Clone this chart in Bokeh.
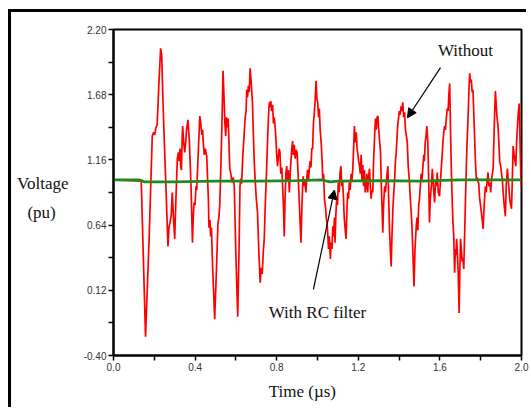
from bokeh.plotting import figure
from bokeh.layouts import column
from bokeh.models import (Range1d, FixedTicker, Label, Arrow, NormalHead,
                          PrintfTickFormatter, LinearAxis)
from bokeh.embed import file_html
from bokeh.resources import INLINE

# ---- data ----
green_t = [0.0, 0.13, 0.15, 0.3, 0.5, 0.7, 0.9, 1.02, 1.06, 1.1, 1.3, 1.5, 1.7, 1.9, 2.0]
green_v = [1.00, 1.00, 0.985, 0.985, 0.99, 0.99, 0.995, 1.0, 0.985, 0.99, 0.995, 0.99, 1.0, 1.0, 1.0]

red_pts = [
    (0.0, 1.00), (0.136, 0.99), (0.157, -0.25), (0.175, 0.55), (0.19, 1.35), (0.197, 1.38),
    (0.202, 1.36), (0.208, 1.42), (0.214, 1.44), (0.222, 1.75), (0.231, 2.05), (0.236, 2.00),
    (0.245, 1.50), (0.258, 0.90), (0.267, 0.47), (0.272, 0.62), (0.277, 0.66), (0.283, 0.72),
    (0.288, 0.90), (0.294, 0.70), (0.30, 0.53), (0.306, 0.85), (0.313, 1.17), (0.318, 1.22),
    (0.322, 1.15), (0.326, 1.25), (0.330, 1.10), (0.333, 1.08), (0.336, 1.30), (0.339, 1.43),
    (0.344, 1.30), (0.349, 1.22), (0.354, 1.30), (0.358, 1.40), (0.365, 1.48), (0.372, 1.30),
    (0.380, 0.95), (0.387, 0.50), (0.391, 0.70), (0.395, 0.82), (0.400, 0.80), (0.404, 0.95),
    (0.408, 0.92), (0.415, 1.20), (0.423, 1.51), (0.428, 1.45), (0.433, 1.36), (0.437, 1.40),
    (0.44, 1.30), (0.445, 1.20), (0.450, 1.25), (0.457, 1.19), (0.465, 0.85), (0.468, 0.62),
    (0.473, 0.68), (0.476, 0.55), (0.480, 0.62), (0.486, 0.30), (0.496, -0.11), (0.505, 0.30),
    (0.512, 0.65), (0.517, 0.71), (0.521, 0.80), (0.526, 1.09), (0.531, 1.40), (0.537, 1.87),
    (0.542, 1.65), (0.546, 1.45), (0.55, 1.35), (0.554, 1.50), (0.558, 1.42), (0.562, 1.49),
    (0.566, 1.30), (0.57, 1.09), (0.575, 1.05), (0.579, 1.00), (0.583, 0.98), (0.587, 1.02),
    (0.592, 0.95), (0.600, 0.40), (0.609, -0.09), (0.616, 0.50), (0.620, 0.95), (0.624, 1.01),
    (0.628, 0.97), (0.634, 1.20), (0.640, 1.35), (0.645, 1.49), (0.650, 1.55), (0.653, 1.72),
    (0.657, 1.66), (0.661, 1.75), (0.665, 1.70), (0.670, 1.89), (0.674, 1.80), (0.678, 1.70),
    (0.681, 1.62), (0.686, 1.35), (0.690, 1.15), (0.694, 1.01), (0.700, 0.85), (0.706, 0.74),
    (0.712, 0.45), (0.719, 0.18), (0.724, 0.30), (0.729, 0.25), (0.734, 0.42), (0.739, 0.53),
    (0.744, 0.80), (0.75, 1.06), (0.756, 1.35), (0.761, 1.55), (0.764, 1.62), (0.767, 1.58),
    (0.771, 1.63), (0.775, 1.55), (0.78, 1.60), (0.784, 1.45), (0.788, 1.50), (0.793, 1.41),
    (0.797, 1.30), (0.800, 1.20), (0.804, 1.11), (0.808, 1.18), (0.812, 1.25), (0.816, 1.22),
    (0.820, 1.05), (0.825, 1.10), (0.829, 0.95), (0.833, 0.80), (0.837, 0.55), (0.841, 0.85),
    (0.845, 1.05), (0.849, 1.11), (0.853, 1.00), (0.857, 1.08), (0.862, 0.90), (0.866, 1.05),
    (0.870, 1.15), (0.874, 1.25), (0.878, 1.31), (0.882, 1.20), (0.886, 1.28), (0.891, 1.17),
    (0.895, 1.24), (0.900, 1.22), (0.905, 1.05), (0.910, 0.85), (0.915, 0.65), (0.919, 0.50),
    (0.923, 0.75), (0.927, 0.95), (0.93, 1.03), (0.934, 0.95), (0.938, 1.00), (0.943, 0.90),
    (0.947, 1.00), (0.951, 1.08), (0.956, 1.00), (0.96, 1.09), (0.964, 1.15), (0.968, 1.10),
    (0.972, 1.25), (0.976, 1.25), (0.980, 1.45), (0.985, 1.55), (0.989, 1.65), (0.993, 1.79),
    (0.997, 1.65), (1.001, 1.62), (1.005, 1.50), (1.009, 1.57), (1.013, 1.40), (1.018, 1.30),
    (1.022, 1.17), (1.026, 1.00), (1.030, 1.05), (1.034, 0.85), (1.039, 0.79), (1.043, 0.70),
    (1.047, 0.65), (1.05, 0.58), (1.054, 0.45), (1.058, 0.55), (1.063, 0.37), (1.067, 0.50),
    (1.071, 0.45), (1.075, 0.63), (1.079, 0.55), (1.083, 0.70), (1.086, 0.50), (1.090, 0.72),
    (1.094, 0.85), (1.098, 0.80), (1.102, 0.98), (1.106, 0.90), (1.110, 1.05), (1.115, 1.11),
    (1.119, 0.95), (1.123, 1.00), (1.127, 0.87), (1.131, 0.70), (1.136, 0.60), (1.14, 0.53),
    (1.144, 0.75), (1.148, 0.90), (1.152, 0.85), (1.156, 0.98), (1.160, 0.92), (1.165, 1.05),
    (1.169, 1.00), (1.173, 1.09), (1.177, 1.25), (1.181, 1.43), (1.185, 1.30), (1.190, 1.38),
    (1.194, 1.25), (1.198, 1.20), (1.202, 1.15), (1.206, 1.11), (1.210, 1.05), (1.214, 1.20),
    (1.218, 1.00), (1.222, 1.12), (1.226, 0.95), (1.230, 1.08), (1.234, 0.90), (1.238, 0.95),
    (1.242, 1.05), (1.246, 0.90), (1.250, 1.02), (1.255, 1.09), (1.259, 0.95), (1.263, 0.85),
    (1.267, 0.92), (1.271, 0.90), (1.275, 1.15), (1.280, 1.35), (1.284, 1.49), (1.288, 1.40),
    (1.292, 1.50), (1.296, 1.51), (1.300, 1.40), (1.305, 1.30), (1.309, 1.22), (1.313, 0.95),
    (1.317, 0.75), (1.32, 0.58), (1.324, 0.80), (1.329, 0.95), (1.333, 0.90), (1.337, 0.98),
    (1.341, 1.05), (1.345, 1.11), (1.349, 0.85), (1.353, 0.60), (1.357, 0.45), (1.361, 0.31),
    (1.365, 0.55), (1.369, 0.75), (1.374, 0.90), (1.378, 1.00), (1.382, 1.15), (1.386, 1.22),
    (1.390, 1.35), (1.394, 1.45), (1.397, 1.49), (1.401, 1.55), (1.405, 1.52), (1.41, 1.59),
    (1.414, 1.55), (1.418, 1.62), (1.422, 1.50), (1.427, 1.54), (1.431, 1.40), (1.436, 1.35),
    (1.44, 1.30), (1.445, 1.10), (1.451, 0.98), (1.455, 0.85), (1.459, 0.75), (1.463, 0.63),
    (1.468, 0.40), (1.473, 0.15), (1.478, 0.45), (1.484, 0.63), (1.488, 0.70), (1.492, 0.60),
    (1.496, 0.80), (1.50, 0.85), (1.504, 0.95), (1.508, 1.05), (1.512, 1.00), (1.517, 1.11),
    (1.521, 1.20), (1.524, 1.15), (1.528, 1.30), (1.532, 1.35), (1.536, 1.43), (1.541, 1.30),
    (1.545, 1.00), (1.549, 0.66), (1.553, 0.85), (1.558, 0.95), (1.563, 1.09), (1.568, 0.95),
    (1.574, 0.82), (1.579, 1.00), (1.583, 0.95), (1.587, 1.06), (1.592, 0.90), (1.598, 0.87),
    (1.603, 1.00), (1.607, 1.10), (1.61, 1.17), (1.615, 1.30), (1.619, 1.38), (1.623, 1.43),
    (1.627, 1.40), (1.632, 1.50), (1.636, 1.57), (1.640, 1.55), (1.644, 1.68), (1.648, 1.77),
    (1.652, 1.40), (1.656, 1.09), (1.660, 0.85), (1.664, 0.66), (1.668, 0.55), (1.672, 0.26),
    (1.676, 0.45), (1.679, 0.40), (1.682, 0.53), (1.686, 0.40), (1.690, 0.25), (1.694, -0.06),
    (1.698, 0.30), (1.701, 0.53), (1.705, 0.45), (1.709, 0.35), (1.713, 0.38), (1.717, 0.29),
    (1.721, 0.55), (1.727, 0.95), (1.732, 1.25), (1.738, 1.49), (1.742, 1.70), (1.746, 1.85),
    (1.750, 1.78), (1.754, 1.80), (1.758, 1.70), (1.762, 1.72), (1.767, 1.49), (1.771, 1.30),
    (1.775, 1.11), (1.779, 1.00), (1.783, 1.02), (1.787, 0.98), (1.790, 0.98), (1.795, 0.85),
    (1.800, 0.79), (1.806, 0.70), (1.812, 0.61), (1.817, 0.80), (1.823, 0.95), (1.827, 0.90),
    (1.832, 1.00), (1.836, 1.06), (1.840, 0.95), (1.845, 0.98), (1.849, 0.90), (1.853, 1.00),
    (1.857, 1.05), (1.861, 1.09), (1.866, 1.40), (1.872, 1.71), (1.876, 1.60), (1.880, 1.50),
    (1.885, 1.43), (1.889, 1.30), (1.893, 1.15), (1.898, 1.11), (1.902, 1.05), (1.906, 1.01),
    (1.910, 0.90), (1.915, 0.80), (1.921, 0.71), (1.925, 0.95), (1.931, 1.09), (1.935, 1.00),
    (1.938, 0.95), (1.942, 0.85), (1.947, 0.80), (1.951, 0.77), (1.955, 1.00), (1.959, 1.27),
    (1.964, 1.20), (1.968, 1.15), (1.972, 1.11), (1.976, 1.30), (1.981, 1.45), (1.985, 1.55),
    (1.989, 1.61), (1.993, 1.30), (1.997, 1.00), (2.0, 0.95),
]
red_t = [a for a, b in red_pts]
red_v = [b for a, b in red_pts]

y_ticks = [-0.40, 0.12, 0.64, 1.16, 1.68, 2.20]
y_minor = [-0.14, 0.38, 0.90, 1.42, 1.94]
x_ticks = [0.0, 0.4, 0.8, 1.2, 1.6, 2.0]
x_minor = [0.2, 0.6, 1.0, 1.4, 1.8]

serif = "Liberation Serif"

p = figure(width=518, height=398, output_backend="svg", toolbar_location=None,
           x_range=Range1d(0, 2.0), y_range=Range1d(-0.40, 2.20),
           min_border_left=102, min_border_right=8, min_border_top=17, min_border_bottom=55)
p.grid.visible = False
p.background_fill_color = "white"
p.border_fill_color = "white"
p.outline_line_color = "black"
p.outline_line_width = 2

p.line(red_t, red_v, line_color="#ff0000", line_width=1.7)
p.line(green_t, green_v, line_color="#1f8a1f", line_width=2.8)

for ax in (p.xaxis[0], p.yaxis[0]):
    ax.axis_line_color = "black"
    ax.axis_line_width = 2
    ax.major_tick_in = 0
    ax.major_tick_out = 5
    ax.minor_tick_in = 0
    ax.minor_tick_out = 5
    ax.major_tick_line_color = "black"
    ax.minor_tick_line_color = "black"
    ax.major_tick_line_width = 1.5
    ax.minor_tick_line_width = 1.5
    ax.major_label_text_font = "Liberation Sans"
    ax.major_label_text_font_size = "10px"
    ax.major_label_text_color = "#333333"

p.yaxis[0].ticker = FixedTicker(ticks=y_ticks, minor_ticks=y_minor)
p.xaxis[0].ticker = FixedTicker(ticks=x_ticks, minor_ticks=x_minor)
p.yaxis[0].formatter = PrintfTickFormatter(format="%.2f")
p.xaxis[0].formatter = PrintfTickFormatter(format="%.1f")
p.yaxis[0].major_label_standoff = 2
p.xaxis[0].major_label_standoff = 2

# axis titles, drawn as the single labels of extra bare axes
def bare_axis(ticks, labels, standoff):
    ax = LinearAxis(ticker=FixedTicker(ticks=ticks, minor_ticks=[]),
                    major_label_overrides=dict(zip(ticks, labels)))
    ax.axis_line_color = None
    ax.major_tick_line_color = None
    ax.minor_tick_line_color = None
    ax.major_tick_out = 0
    ax.major_tick_in = 0
    ax.major_label_standoff = standoff
    ax.major_label_text_font = serif
    ax.major_label_text_font_size = "17px"
    ax.major_label_text_color = "#111111"
    return ax

p.add_layout(bare_axis([0.968, 0.744], ["Voltage", "(pu)\u00a0\u00a0\u00a0"], 12), "left")
p.add_layout(bare_axis([0.926], ["Time (µs)"], 8), "below")

def lab(x, y, t):
    p.add_layout(Label(x=x, y=y, text=t, text_font=serif, text_font_size="17px",
                       text_align="center", text_baseline="middle", text_color="#111111"))

lab(1.725, 2.032, "Without")
lab(1.0, -0.056, "With RC filter")

p.add_layout(Arrow(x_start=1.603, y_start=1.896, x_end=1.441, y_end=1.496,
                   line_color="black", line_width=1.2,
                   end=NormalHead(size=9, fill_color="black", line_color="black")))
p.add_layout(Arrow(x_start=0.980, y_start=0.128, x_end=1.083, y_end=0.92,
                   line_color="black", line_width=1.2,
                   end=NormalHead(size=9, fill_color="black", line_color="black")))

# outer frame of the picture: only its left and top edges are in view
page = column(p, styles={"margin-left": "11px", "margin-top": "12px",
                         "box-shadow": "-3px -3px 0px 0px black"})

open("out.html", "w").write(file_html(page, INLINE))
